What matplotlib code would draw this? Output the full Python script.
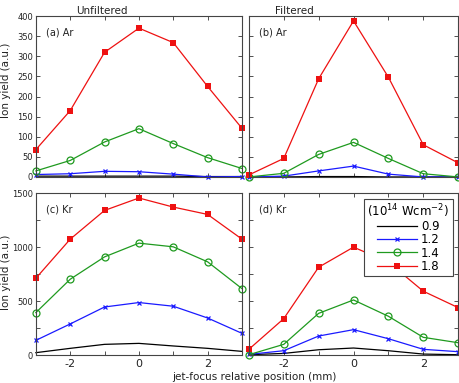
import matplotlib.pyplot as plt

pos = [-3, -2, -1, 0, 1, 2, 3]
intensity_labels = ["0.9", "1.2", "1.4", "1.8"]

# (a) Ar unfiltered
ar_unf_09 = [2, 2, 2, 2, 2, 1, 1]
ar_unf_12 = [6, 8, 14, 13, 7, 0, 1]
ar_unf_14 = [15, 41, 87, 120, 83, 48, 21]
ar_unf_18 = [68, 165, 310, 370, 334, 225, 121]

# (b) Ar filtered
ar_fil_09 = [0, 0, 1, 1, 0, 0, 0]
ar_fil_12 = [0, 2, 15, 27, 7, 0, 0]
ar_fil_14 = [0, 9, 56, 86, 46, 8, 0]
ar_fil_18 = [5, 46, 244, 388, 248, 80, 35]

# (c) Kr unfiltered
kr_unf_09 = [22, 62, 99, 108, 84, 62, 34]
kr_unf_12 = [136, 288, 445, 486, 452, 343, 201]
kr_unf_14 = [393, 702, 909, 1036, 1002, 863, 615]
kr_unf_18 = [711, 1073, 1339, 1454, 1370, 1302, 1073]

# (d) Kr filtered
kr_fil_09 = [3, 15, 49, 65, 40, 9, 3]
kr_fil_12 = [6, 40, 176, 235, 151, 53, 31]
kr_fil_14 = [3, 99, 386, 510, 359, 164, 114]
kr_fil_18 = [53, 337, 813, 999, 860, 591, 439]

panels = [
    ("(a) Ar", [ar_unf_09, ar_unf_12, ar_unf_14, ar_unf_18]),
    ("(b) Ar", [ar_fil_09, ar_fil_12, ar_fil_14, ar_fil_18]),
    ("(c) Kr", [kr_unf_09, kr_unf_12, kr_unf_14, kr_unf_18]),
    ("(d) Kr", [kr_fil_09, kr_fil_12, kr_fil_14, kr_fil_18]),
]

styles = [
    dict(color="black", marker=None),
    dict(color="#1a1aff", marker="x", ms=3, mew=0.9),
    dict(color="#1f9a1f", marker="o", ms=5, mfc="none", mew=0.9),
    dict(color="#ee1111", marker="s", ms=3.8, mew=0),
]

fig = plt.figure(figsize=(4.6, 3.83), dpi=100)
rects = [
    [0.078, 0.538, 0.448, 0.42],
    [0.541, 0.538, 0.455, 0.42],
    [0.078, 0.073, 0.448, 0.423],
    [0.541, 0.073, 0.455, 0.423],
]
axes = [fig.add_axes(r) for r in rects]

for i, (ax, (tag, series)) in enumerate(zip(axes, panels)):
    for vals, st, lab in zip(series, styles, intensity_labels):
        ax.plot(pos, vals, lw=0.9, label=lab, clip_on=False, **st)
    ax.set_xlim(-3, 3)
    ax.set_xticks([-3, -2, -1, 0, 1, 2, 3])
    if i < 2:
        ax.set_ylim(0, 400)
        ax.set_yticks(range(0, 401, 50))
        ax.set_xticklabels([])
    else:
        ax.set_ylim(0, 1500)
        ax.set_yticks(range(0, 1501, 250))
        ax.set_xticklabels(["", "-2", "", "0", "", "2", ""])
        ylabels = ["0", "", "500", "", "1000", "", "1500"]
        ax.set_yticklabels(ylabels)
    if i % 2 == 1:
        ax.set_yticklabels([])
    ax.tick_params(direction="in", top=True, right=True, length=3, width=0.6,
                   colors="#333333", labelcolor="#222222")
    ax.tick_params(axis="y", labelsize=6, pad=2)
    ax.tick_params(axis="x", labelsize=8, pad=3)
    for sp in ax.spines.values():
        sp.set_color("#444444")
        sp.set_linewidth(0.8)
    ax.text(0.05, 0.93, tag, transform=ax.transAxes, fontsize=7,
            va="top", ha="left", color="#222222")

fig.text(0.165, 0.985, "Unfiltered", fontsize=7.5, va="top", ha="left", color="#222222")
fig.text(0.598, 0.985, "Filtered", fontsize=7.5, va="top", ha="left", color="#222222")
fig.text(0.012, 0.79, "Ion yield (a.u.)", rotation=90, fontsize=7.5, ha="center",
         va="center", color="#222222")
fig.text(0.012, 0.29, "Ion yield (a.u.)", rotation=90, fontsize=7.5, ha="center",
         va="center", color="#222222")
fig.text(0.553, 0.003, "jet-focus relative position (mm)", fontsize=7.5, ha="center",
         va="bottom", color="#222222")

leg = axes[3].legend(title="(10$^{14}$ Wcm$^{-2}$)", loc="upper right",
                     bbox_to_anchor=(0.975, 0.965), fontsize=8.5, title_fontsize=8.5,
                     frameon=True, fancybox=False, handlelength=3.4,
                     borderpad=0.3, labelspacing=0.02, handletextpad=0.3,
                     borderaxespad=0)
leg.get_frame().set_edgecolor("#444444")
leg.get_frame().set_linewidth(0.8)
leg.get_frame().set_alpha(1)

fig.savefig("out.png", dpi=100)
